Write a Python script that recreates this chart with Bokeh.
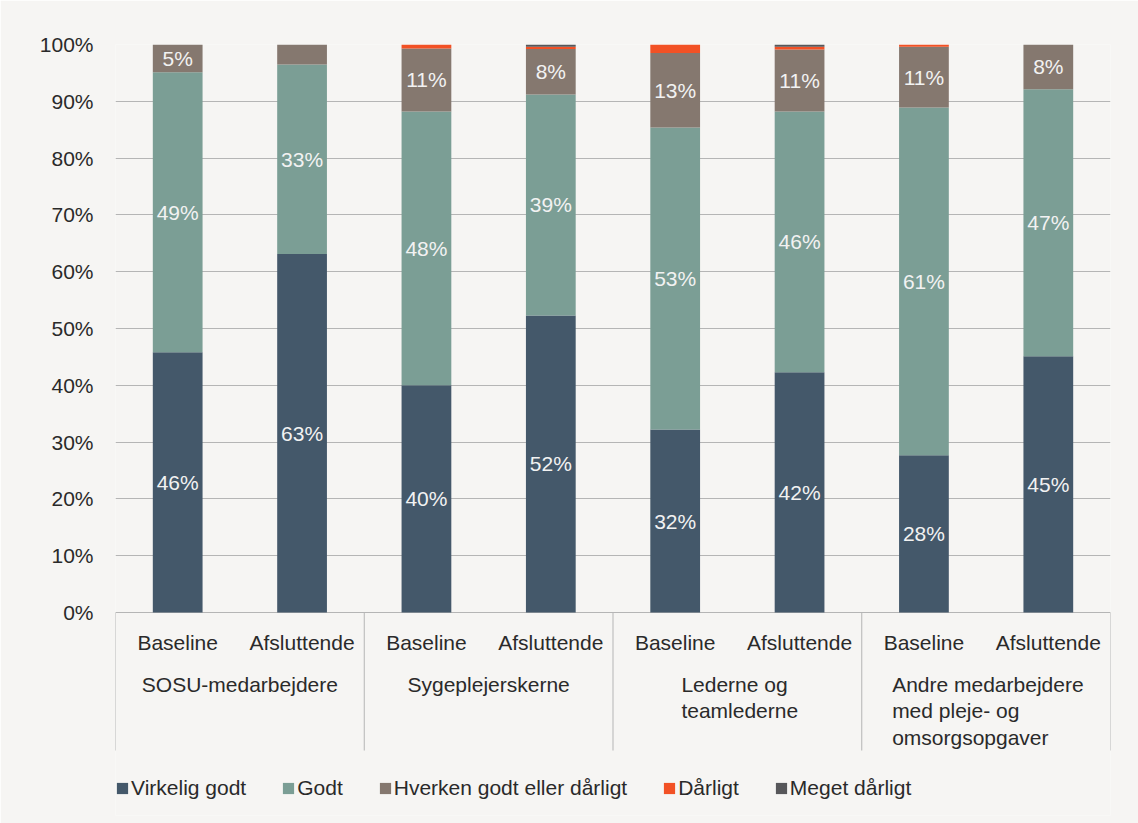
from bokeh.plotting import figure
from bokeh.models import (ColumnDataSource, Range1d, FixedTicker, PrintfTickFormatter,
                          Legend, LegendItem)
from bokeh.core.properties import value
from bokeh.embed import file_html
from bokeh.resources import INLINE

# ---- data ----
groups = ["SOSU-medarbejdere", "Sygeplejerskerne", "Lederne og\nteamlederne",
          "Andre medarbejdere\nmed pleje- og\nomsorgsopgaver"]
subcats = ["Baseline", "Afsluttende"]
series = ["Virkelig godt", "Godt", "Hverken godt eller dårligt", "Dårligt", "Meget dårligt"]
virkelig = [45.8, 63.1, 40.0, 52.3, 32.2, 42.3, 27.7, 45.1]
godt = [49.3, 33.4, 48.2, 38.9, 53.2, 45.9, 61.2, 47.0]
hverken = [4.9, 3.5, 11.1, 8.0, 13.1, 10.9, 10.7, 7.9]
daarligt = [0.0, 0.0, 0.7, 0.4, 1.5, 0.5, 0.4, 0.0]
meget = [0.0, 0.0, 0.0, 0.4, 0.0, 0.4, 0.0, 0.0]
y_ticks = list(range(0, 101, 10))

colors = ["#44586a", "#7b9e95", "#85786f", "#f25125", "#57575a"]
BG = "#f6f5f3"
GRID = "#b5b5b5"
FONT = "Liberation Sans"
FS = "21px"
TXT = "#2a2a2a"

n = len(virkelig)
xs = [i + 0.5 for i in range(n)]
keys = ["v", "g", "h", "d", "m"]
src = ColumnDataSource(dict(x=xs, v=virkelig, g=godt, h=hverken, d=daarligt, m=meget))

p = figure(width=1138, height=823, output_backend="svg", toolbar_location=None,
           x_range=Range1d(0, n), y_range=Range1d(-35.74, 100),
           min_border_left=115, min_border_right=28, min_border_top=44, min_border_bottom=8)
p.background_fill_color = BG
p.border_fill_color = BG
p.outline_line_color = None

renderers = p.vbar_stack(keys, x="x", width=0.4, color=colors, line_color=None, source=src)

# y axis
p.yaxis.ticker = FixedTicker(ticks=y_ticks)
p.yaxis.formatter = PrintfTickFormatter(format="%d%%")
p.yaxis.axis_line_color = None
p.yaxis.major_tick_line_color = None
p.yaxis.minor_tick_line_color = None
p.yaxis.major_tick_out = 0
p.yaxis.major_tick_in = 0
p.yaxis.major_label_standoff = 22
p.yaxis.major_label_text_font = FONT
p.yaxis.major_label_text_font_size = FS
p.yaxis.major_label_text_color = TXT
p.xaxis.visible = False
p.xgrid.visible = False
p.ygrid.grid_line_color = GRID
p.ygrid.grid_line_width = 1
p.ygrid.level = "underlay"

# segment labels
lx, ly, lt = [], [], []
for i in range(n):
    base = 0.0
    for arr in (virkelig, godt, hverken):
        val = arr[i]
        if val >= 4.5:
            lx.append(xs[i]); ly.append(base + val / 2); lt.append(f"{round(val)}%")
        base += val
p.text(x=lx, y=ly, text=lt, text_align="center", text_baseline="middle",
       text_font=value(FONT), text_font_size=FS, text_color="#f2f2f2")

# category axis drawn manually
sep_x = [0, 2, 4, 6, 8]
p.segment(x0=sep_x, y0=[0] * 5, x1=sep_x, y1=[-24.3] * 5, line_color=GRID, line_width=1)
p.text(x=xs, y=[-5.3] * n, text=[subcats[i % 2] for i in range(n)], text_align="center",
       text_baseline="middle", text_font=value(FONT), text_font_size=FS, text_color=TXT)
gx = [1, 3, 5, 7]
half_w = [0, 0, 56, 94]
p.text(x=gx, y=[-10.6] * 4, text=groups, x_offset=[-w for w in half_w],
       text_align=["center", "center", "left", "left"], text_baseline="top",
       text_line_height=1.16,
       text_font=value(FONT), text_font_size=FS, text_color=TXT)

legend = Legend(items=[LegendItem(label=s, renderers=[r]) for s, r in zip(series, renderers)],
                orientation="horizontal", location=(0, 15), padding=0, margin=0,
                background_fill_alpha=0, border_line_alpha=0,
                glyph_width=14, glyph_height=14, label_standoff=2, spacing=35,
                label_text_font=FONT, label_text_font_size=FS, label_text_color=TXT,
                label_height=20)
p.add_layout(legend)

open("out.html", "w").write(file_html(p, INLINE))
